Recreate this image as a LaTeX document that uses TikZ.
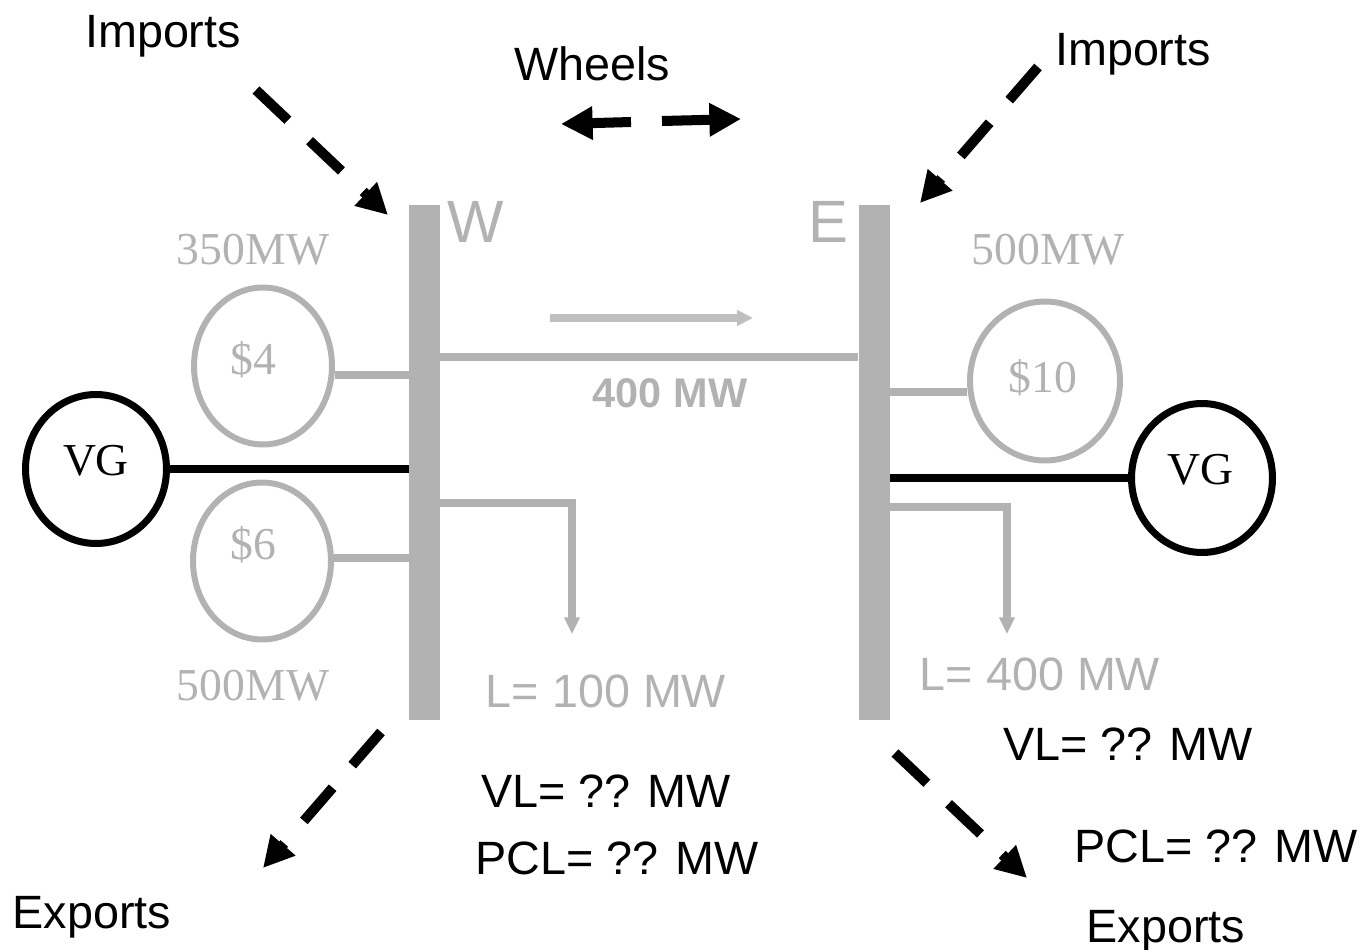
\documentclass[tikz,border=0pt]{standalone}
\usepackage{fontspec}
\setmainfont{Liberation Serif}
\setsansfont{Liberation Sans}
\usetikzlibrary{shapes.geometric, arrows.meta, positioning, calc}
\definecolor{busgray}{HTML}{B2B2B2}
\definecolor{flowgray}{HTML}{BFBFBF}

\begin{document}
\begin{tikzpicture}[
        x=0.02cm, y=-0.02cm,
        bus/.style={rectangle, fill=busgray, inner sep=0pt, minimum width=0.62cm, minimum height=10.3cm},
        gen/.style={ellipse, draw=busgray, line width=3.4pt, inner sep=0pt, minimum width=2.76cm, minimum height=3.14cm},
        vgen/.style={gen, draw=black, line width=4pt, minimum width=2.82cm, minimum height=2.98cm},
        gentxt/.style={inner sep=0pt, text=busgray, font=\fontsize{26}{30}\selectfont},
        vgtxt/.style={gentxt, text=black},
        feeder/.style={draw=busgray, line width=4.2pt},
        tie/.style={draw=black, line width=4.2pt},
        load/.style={feeder, -{Triangle[length=9.5pt, width=8.5pt]}},
        flow/.style={draw=flowgray, line width=4.2pt, -{Triangle[length=9pt, width=8.5pt]}},
        trade/.style={draw=black, line width=5.7pt, dash pattern=on 25pt off 17pt, -{Triangle[length=17.5pt, width=17.5pt]}},
        wheel/.style={draw=black, line width=5.7pt, -{Triangle[length=18pt, width=18pt]}},
        sanslbl/.style={inner sep=0pt, anchor=base, font=\sffamily\fontsize{26.6}{30}\selectfont},
        greylbl/.style={sanslbl, text=busgray},
        caplbl/.style={inner sep=0pt, anchor=base, text=busgray, font=\fontsize{26}{30}\selectfont}
    ]
    \useasboundingbox (0,0) rectangle (1366,950);

    % Buses
    \node[bus] (wbus) at (424.5,462.5) {};
    \node[bus] (ebus) at (874,462.5) {};
    \node[inner sep=0pt, anchor=base west, text=busgray, font=\sffamily\fontsize{34}{36}\selectfont] (wname) at (447,242) {W};
    \node[inner sep=0pt, anchor=base east, text=busgray, font=\sffamily\fontsize{34}{36}\selectfont] (ename) at (849,242) {E};

    % Generators
    \node[gen] (g4) at (263,366) {};
    \node[gen] (g6) at (262,561) {};
    \node[gen, minimum width=3.0cm, minimum height=3.18cm] (g10) at (1045,381) {};
    \node[vgen] (vgw) at (96,469) {};
    \node[vgen] (vge) at (1202,478) {};
    \node[gentxt] (g4txt) at (253,360) {\$4};
    \node[gentxt] (g6txt) at (253,545) {\$6};
    \node[gentxt] (g10txt) at (1043,378) {\$10};
    \node[vgtxt] (vgwtxt) at (96,461) {VG};
    \node[vgtxt] (vgetxt) at (1200,470) {VG};

    % Capacities
    \node[caplbl] (capw) at (253,264) {350MW};
    \node[caplbl] (capw2) at (253,700) {500MW};
    \node[caplbl] (cape) at (1048,264) {500MW};

    % Gen connections
    \draw[feeder] (g4.east |- 0,375) -- (wbus.west |- 0,375);
    \draw[feeder] (g6.east |- 0,558) -- (wbus.west |- 0,558);
    \draw[feeder] (g10.west |- 0,392) -- (ebus.east |- 0,392);
    \draw[tie] (vgw) -- (vgw -| wbus.west);
    \draw[tie] (vge) -- (vge -| ebus.east);

    % Line W-E
    \draw[feeder] (wbus.east |- 0,357) -- (ebus.west |- 0,357);
    \coordinate (fl0) at (550,318);
    \coordinate (fl1) at (753,318);
    \draw[flow] (fl0) -- (fl1);
    \node[inner sep=0pt, anchor=base, text=busgray, font=\sffamily\bfseries\fontsize{23.6}{26}\selectfont] (flowlbl) at (670,407) {400 MW};

    % Loads
    \coordinate (wld) at (572,634);
    \coordinate (eld) at (1007,634);
    \draw[load] (wbus.east |- 0,503) -| (wld);
    \draw[load] (ebus.east |- 0,507) -| (eld);
    \node[greylbl] (wload) at (606,707) {L= 100 MW};
    \node[greylbl] (eload) at (1040,690) {L= 400 MW};
    \node[sanslbl] (wvl) at (606,807) {VL= ?? MW};
    \node[sanslbl] (wpcl) at (617,874) {PCL= ?? MW};
    \node[sanslbl] (evl) at (1128,760) {VL= ?? MW};
    \node[sanslbl] (epcl) at (1216,862) {PCL= ?? MW};

    % Imports / exports
    \node[sanslbl] (impw) at (163,47) {Imports};
    \node[sanslbl] (impe) at (1133,65) {Imports};
    \node[sanslbl] (expw) at (92,928) {Exports};
    \node[sanslbl] (expe) at (1166,942) {Exports};
    \coordinate (iw0) at (256,90);
    \coordinate (iw1) at (388,215);
    \coordinate (ie0) at (1038,67);
    \coordinate (ie1) at (920,203);
    \coordinate (xw0) at (381,732);
    \coordinate (xw1) at (263,868);
    \coordinate (xe0) at (895,753);
    \coordinate (xe1) at (1027,878);
    \draw[trade] (iw0) -- (iw1);
    \draw[trade] (ie0) -- (ie1);
    \draw[trade] (xw0) -- (xw1);
    \draw[trade] (xe0) -- (xe1);

    % Wheels
    \node[sanslbl] (whl) at (592,80) {Wheels};
    \coordinate (wl0) at (631,122);
    \coordinate (wl1) at (561,124);
    \coordinate (wr0) at (662,121);
    \coordinate (wr1) at (741,119);
    \draw[wheel] (wl0) -- (wl1);
    \draw[wheel] (wr0) -- (wr1);

\end{tikzpicture}
\end{document}
